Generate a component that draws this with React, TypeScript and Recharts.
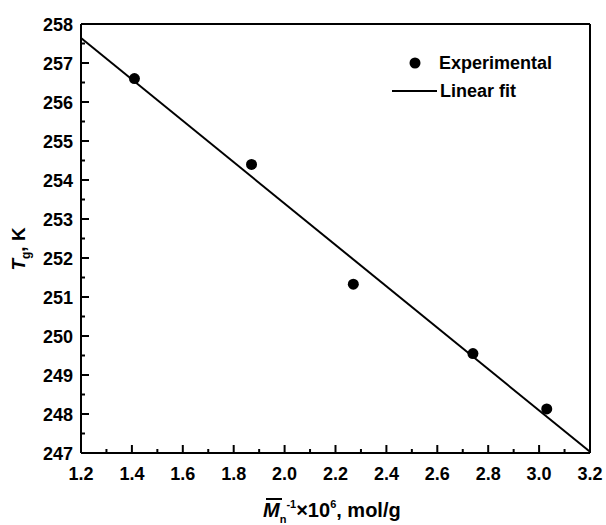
import {
  ComposedChart,
  Scatter,
  Line,
  XAxis,
  YAxis,
  ReferenceLine,
  Legend,
  Label,
} from 'recharts';

// measured glass transition temperature vs inverse molar mass
const invMn = [1.41, 1.87, 2.27, 2.74, 3.03];
const tg = [256.6, 254.4, 251.33, 249.55, 248.13];

// linear fit, end points over the plotted range
const fitX = [1.2, 3.2];
const fitY = [257.64, 247.03];

const xTicks = [1.2, 1.3, 1.4, 1.5, 1.6, 1.7, 1.8, 1.9, 2.0, 2.1, 2.2, 2.3, 2.4, 2.5, 2.6, 2.7, 2.8, 2.9, 3.0, 3.1, 3.2];
const yTicks = [247, 247.5, 248, 248.5, 249, 249.5, 250, 250.5, 251, 251.5, 252, 252.5, 253, 253.5, 254, 254.5, 255, 255.5, 256, 256.5, 257, 257.5, 258];

const FONT = '"Liberation Sans", Arial, sans-serif';

const points = invMn.map((x, i) => ({ x, y: tg[i] }));
const fit = fitX.map((x, i) => ({ x, y: fitY[i] }));

const isMajorX = (v: number) => Math.round(v * 10) % 2 === 0;
const isMajorY = (v: number) => Number.isInteger(v);

const XTick = ({ x, y, payload }: any) => {
  const major = isMajorX(payload.value);
  return (
    <g>
      <line x1={x} x2={x} y1={y} y2={y - (major ? 8 : 4)} stroke="#000" strokeWidth={2} />
      {major && (
        <text x={x} y={y + 27} textAnchor="middle" fontFamily={FONT} fontWeight="bold" fontSize={18} fill="#000">
          {payload.value.toFixed(1)}
        </text>
      )}
    </g>
  );
};

const YTick = ({ x, y, payload }: any) => {
  const major = isMajorY(payload.value);
  return (
    <g>
      <line x1={x} x2={x + (major ? 8 : 4)} y1={y} y2={y} stroke="#000" strokeWidth={2} />
      {major && (
        <text x={x - 8} y={y + 6.5} textAnchor="end" fontFamily={FONT} fontWeight="bold" fontSize={18} fill="#000">
          {payload.value}
        </text>
      )}
    </g>
  );
};

const XTitle = () => (
  <g fontFamily={FONT} fontWeight="bold" fill="#000">
    <line x1={266} x2={282} y1={499} y2={499} stroke="#000" strokeWidth={2} />
    <text x={263} y={517} fontSize={20}>
      <tspan fontStyle="italic">M</tspan>
      <tspan fontSize={11} dy={6}>n</tspan>
      <tspan fontSize={11} dy={-15}>-1</tspan>
      <tspan fontSize={20} dy={9}>×10</tspan>
      <tspan fontSize={11} dy={-9}>6</tspan>
      <tspan fontSize={20} dy={9}>, mol/g</tspan>
    </text>
  </g>
);

const YTitle = () => (
  <text transform="translate(25,249) rotate(-90)" textAnchor="middle" fontFamily={FONT} fontWeight="bold" fontSize={19} fill="#000">
    <tspan fontStyle="italic">T</tspan>
    <tspan fontSize={12} dy={5}>g</tspan>
    <tspan dy={-5}>, K</tspan>
  </text>
);

const LegendBox = () => (
  <div style={{ fontFamily: FONT, fontWeight: 'bold', fontSize: 18, color: '#000', lineHeight: '28px' }}>
    <div style={{ display: 'flex', alignItems: 'center' }}>
      <svg width={51} height={28}>
        <circle cx={27} cy={14} r={5.5} fill="#000" />
      </svg>
      <span>Experimental</span>
    </div>
    <div style={{ display: 'flex', alignItems: 'center' }}>
      <svg width={52} height={28}>
        <line x1={4} x2={49} y1={14} y2={14} stroke="#000" strokeWidth={2} />
      </svg>
      <span>Linear fit</span>
    </div>
  </div>
);

export default function App() {
  return (
    <div style={{ position: 'absolute', left: 0, top: 0, background: '#fff' }}>
      <ComposedChart width={606} height={525} margin={{ top: 24, right: 16, bottom: 71, left: 80 }}>
        <XAxis
          type="number"
          dataKey="x"
          domain={[1.2, 3.2]}
          ticks={xTicks}
          interval={0}
          height={1}
          tickSize={0}
          tickMargin={0}
          tick={<XTick />}
          axisLine={{ stroke: '#000', strokeWidth: 2 }}
          allowDataOverflow
        >
          <Label content={<XTitle />} />
        </XAxis>
        <YAxis
          type="number"
          dataKey="y"
          domain={[247, 258]}
          ticks={yTicks}
          interval={0}
          width={1}
          tickSize={0}
          tickMargin={0}
          tick={<YTick />}
          axisLine={{ stroke: '#000', strokeWidth: 2 }}
          allowDataOverflow
        >
          <Label content={<YTitle />} />
        </YAxis>
        <ReferenceLine y={258} stroke="#000" strokeWidth={2} />
        <ReferenceLine x={3.2} stroke="#000" strokeWidth={2} />
        <Line
          data={fit}
          dataKey="y"
          type="linear"
          stroke="#000"
          strokeWidth={2}
          dot={false}
          activeDot={false}
          isAnimationActive={false}
        />
        <Scatter data={points} dataKey="y" fill="#000" shape={(p: any) => <circle cx={p.cx} cy={p.cy} r={5.5} fill="#000" />} isAnimationActive={false} />
        <Legend
          layout="vertical"
          align="center"
          verticalAlign="middle"
          content={<LegendBox />}
          wrapperStyle={{ top: 49, left: 388, width: 200 }}
        />
      </ComposedChart>
    </div>
  );
}
